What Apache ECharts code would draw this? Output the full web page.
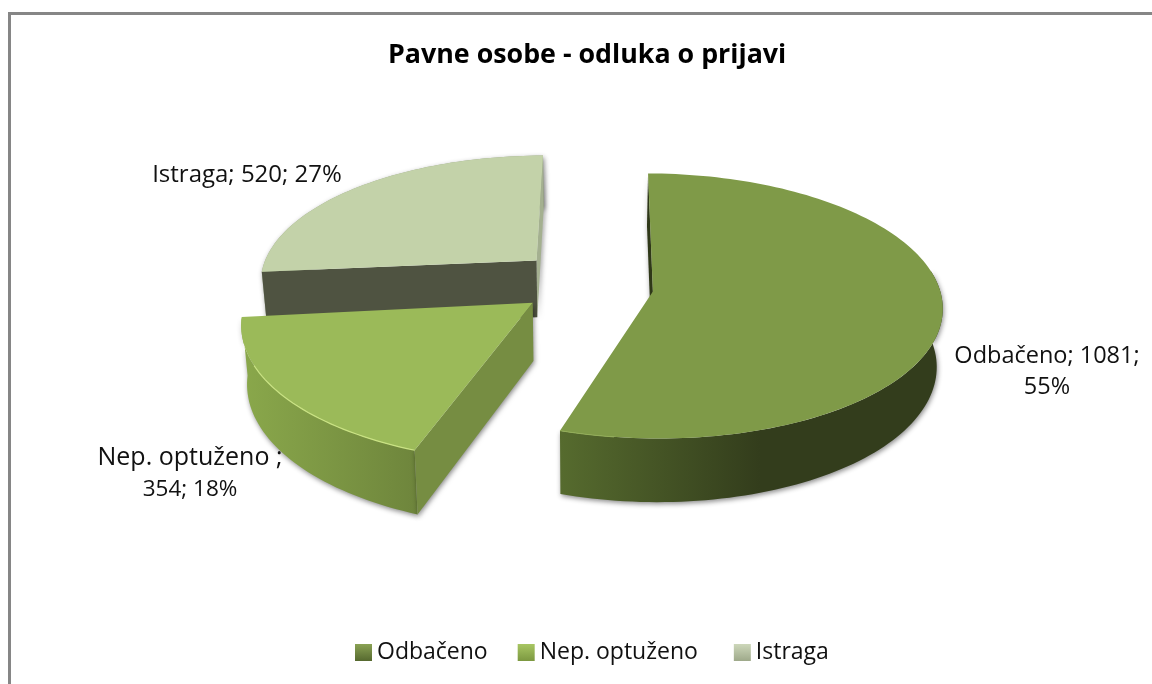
<!DOCTYPE html>
<html><head><meta charset="utf-8">
<style>html,body{margin:0;padding:0;background:#fff}#c{width:1152px;height:684px}</style>
<script src="https://cdn.jsdelivr.net/npm/echarts@6/dist/echarts.min.js"></script>
</head><body><div id="c"></div>
<script>
// ---- data ----
const categories = ['Odbačeno', 'Nep. optuženo', 'Istraga'];
const values = [1081, 354, 520];
const percents = [55, 18, 27];
const chartTitle = 'Pavne osobe - odluka o prijavi';

// ---- styling ----
const FONT = '"Open Sans","Noto Sans",sans-serif';
const topColors = ['#7f9a48', '#9bba59', '#c3d2a9'];
const wallColors = [['#566b2e', '#333d1c'], ['#8aa84b', '#6e853c'], ['#9aa887', '#9aa887']];
const cutColors = [['#2f3818'], ['#768d42'], ['#4f5341', '#a4b090']];
const legendColors = [['#8aa254', '#56692f'], ['#a8c663', '#7c9840'], ['#cdd7ba', '#9ea98a']];
const wallRange = [[80, 999], [-999, 999], [-999, 999]];
// labels: lines with anchor positions and font size
const labelLines = [
  [[`${categories[0]}; ${values[0]};`, 1047, 356, 23.5], [`${percents[0]}%`, 1047, 387, 23.5]],
  [[`${categories[1]} ;`, 190, 458, 25], [`${values[1]}; ${percents[1]}%`, 190, 490, 22.5]],
  [[`${categories[2]}; ${values[2]}; ${percents[2]}%`, 247, 175, 24]]
];

// ---- perspective projection of the pie plane ----
const CX = 586, F = 3063, D = 10.635, HY = -1099, H = 14760, DEPTH = 611, CONV = 0.017;
const START = -1;
const explode = [[0.228, 0.035], [-0.148, 0.158], [-0.160, -0.150]];
const angleShift = [[1.4, 0], [4, 3.8], [5.8, 0.7]];
const radius = [1, 1.025, 0.98];
const apexNudge = [[1, -2], [-10, -7], [-4, -9]];

function project(u, v, low) {
  const z = D - v;
  let sx = CX + F * u / z, sy = HY + H / z;
  if (low) { sx = CX + (sx - CX) * (1 - CONV); sy += DEPTH / z; }
  return [sx, sy];
}
const total = values.reduce((a, b) => a + b, 0);
function sliceAngles(i) {
  let a = START;
  for (let k = 0; k < i; k++) a += values[k] / total * 360;
  return [a, a + values[i] / total * 360];
}
function rim(i, deg, low) {
  const t = deg * Math.PI / 180, e = explode[i], r = radius[i];
  return project(e[0] + r * Math.sin(t), e[1] - r * Math.cos(t), low);
}
function apex(i, low) {
  const p = project(explode[i][0], explode[i][1], low);
  return [p[0] + apexNudge[i][0], p[1] + apexNudge[i][1]];
}
function arc(i, a, b, low) {
  const out = [], n = Math.max(2, Math.ceil(Math.abs(b - a) / 1.5));
  for (let k = 0; k <= n; k++) out.push(rim(i, a + (b - a) * k / n, low));
  return out;
}
function shade(extra) {
  return Object.assign({ shadowBlur: 5, shadowColor: 'rgba(0,0,0,0.45)', shadowOffsetX: 1, shadowOffsetY: 2 }, extra);
}
function sliceRenderer(i) {
  return function (params, api) {
    api.value(0);
    const [a0, a1] = sliceAngles(i);
    const s = a0 + angleShift[i][0], e = a1 + angleShift[i][1];
    const children = [];
    // outer wall
    const wa = Math.max(s, wallRange[i][0]), wb = Math.min(e, wallRange[i][1]);
    const up = arc(i, wa, wb, false), dn = arc(i, wa, wb, true).reverse();
    const xs = up.concat(dn).map(p => p[0]);
    const minX = Math.min(...xs), maxX = Math.max(...xs);
    const wallFill = {
      type: 'linear', global: true, x: minX, y: 0, x2: i === 0 ? minX + 200 : maxX, y2: 0,
      colorStops: [{ offset: 0, color: wallColors[i][0] }, { offset: 1, color: wallColors[i][1] }]
    };
    children.push({ type: 'polygon', shape: { points: up.concat(dn) }, style: shade({ fill: wallFill }) });
    // visible cut faces
    if (i === 0) {
      children.push({ type: 'polygon', shape: { points: [rim(i, s), apex(i), apex(i, true), rim(i, s, true)] },
        style: shade({ fill: cutColors[0][0] }) });
    }
    if (i === 1) {
      children.push({ type: 'polygon', shape: { points: [rim(i, s), apex(i), apex(i, true), rim(i, s, true)] },
        style: shade({ fill: cutColors[1][0] }) });
    }
    if (i === 2) {
      children.push({ type: 'polygon', shape: { points: [rim(i, e), apex(i), apex(i, true), rim(i, e, true)] },
        style: shade({ fill: cutColors[2][1] }) });
      children.push({ type: 'polygon', shape: { points: [rim(i, s), apex(i), apex(i, true), rim(i, s, true)] },
        style: { fill: cutColors[2][0] } });
    }
    // top face
    children.push({ type: 'polygon', shape: { points: [apex(i)].concat(arc(i, s, e, false)) },
      style: { fill: topColors[i] } });
    // light rim highlight on the front edge
    if (i === 1) {
      children.push({ type: 'polyline', shape: { points: arc(i, s, s + 45, false) },
        style: { fill: 'none', stroke: '#c9e283', lineWidth: 1.2 } });
    }
    if (i === 0) {
      children.push({ type: 'polyline', shape: { points: arc(i, e - 10, e, false) },
        style: { fill: 'none', stroke: '#93ae58', lineWidth: 1 } });
    }
    labelLines[i].forEach(l => children.push({
      type: 'text', z2: 50,
      style: { text: l[0], x: l[1], y: l[2], align: 'center', verticalAlign: 'middle',
               font: l[3] + 'px ' + FONT, fill: '#111' }
    }));
    return { type: 'group', children };
  };
}

const zOrder = [2, 3, 1];
const chart = echarts.init(document.getElementById('c'), null, { renderer: 'canvas' });
chart.setOption({
  animation: false,
  backgroundColor: '#fff',
  title: {
    text: chartTitle, left: 383, top: 37,
    textStyle: { fontFamily: FONT, fontWeight: 'bold', fontSize: 26.8, color: '#000' }
  },
  legend: {
    left: 355, top: 641, padding: 0, itemWidth: 17, itemHeight: 17, itemGap: 30, icon: 'rect', selectedMode: false,
    formatter: n => n === categories[1] ? n + ' ' : n,
    textStyle: { fontFamily: FONT, fontSize: 23, color: '#111' },
    data: categories.map((c, i) => ({
      name: c,
      itemStyle: { color: { type: 'linear', x: 0, y: 0, x2: 0, y2: 1,
        colorStops: [{ offset: 0, color: legendColors[i][0] }, { offset: 1, color: legendColors[i][1] }] } }
    }))
  },
  graphic: [
    { type: 'rect', shape: { x: 8, y: 12, width: 1144, height: 3 }, style: { fill: '#868686' }, silent: true },
    { type: 'rect', shape: { x: 8, y: 12, width: 3, height: 672 }, style: { fill: '#868686' }, silent: true }
  ],
  series: categories.map((c, i) => ({
    name: c, type: 'custom', coordinateSystem: 'none', silent: true, z: zOrder[i],
    itemStyle: { color: topColors[i] },
    renderItem: sliceRenderer(i),
    data: [[values[i]]]
  }))
});
</script></body></html>
